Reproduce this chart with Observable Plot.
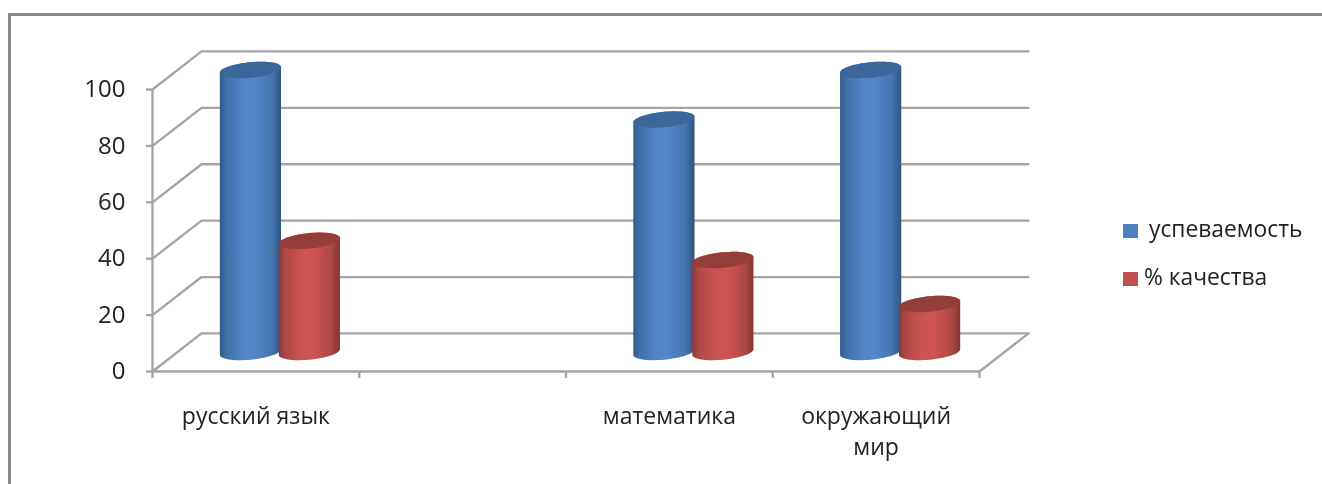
<!DOCTYPE html>
<html lang="ru">
<head>
<meta charset="utf-8">
<script src="https://cdn.jsdelivr.net/npm/d3@7"></script>
<script src="https://cdn.jsdelivr.net/npm/@observablehq/plot@0.6"></script>
<style>
  html, body { margin: 0; padding: 0; background: #fff; }
  body { position: relative; width: 1322px; height: 484px; overflow: hidden; font-family: "Open Sans", sans-serif; }
  #chart { position: absolute; left: 0; top: 0; }
  #chart svg { display: block; filter: blur(0.6px); }
  #frame { position: absolute; left: 8px; top: 13px; right: -4px; bottom: -4px; border-left: 3px solid #8c8c8c; border-top: 3px solid #8c8c8c; }
  .key { position: absolute; font-size: 22.8px; line-height: 28px; color: #222; white-space: nowrap; filter: blur(0.45px); }
  .swatch { position: absolute; width: 15px; height: 14px; filter: blur(0.4px); }
</style>
</head>
<body>
<div id="frame"></div>
<div id="chart"></div>
<div class="swatch" style="left:1123px;top:224px;background:#4f81bd"></div>
<div class="key" style="left:1149px;top:215px">успеваемость</div>
<div class="swatch" style="left:1123px;top:272px;background:#c0504d"></div>
<div class="key" style="left:1144px;top:263px">% качества</div>
<script>
const categories = ["русский язык", "", "математика", "окружающий\nмир"];
const slots = [0, 1, 2, 3];
const uspevaemost = [100, null, 82.4, 100];
const kachestvo = [39.4, null, 32.6, 17];
const yTicks = [0, 20, 40, 60, 80, 100];
const xTicks = [0, 1, 2, 3, 4];

// Pseudo-3D floor depth and cylinder proportions, in data units.
const depthX = 0.237, depthY = 13.5;
const baseLift = depthY / 2, groupShift = depthX / 2;
const halfWidth = 0.148, gap = 0.1425, capHalf = 2.75, capTilt = 1.0;

// Back-wall polylines: one for each tick level.
const wall = yTicks.flatMap((v) => [
  {level: v, x: 0, y: v},
  {level: v, x: depthX, y: v + depthY},
  {level: v, x: 4 + depthX, y: v + depthY}
]);
const floorFront = [
  {x: 0, y: 0}, {x: 4, y: 0}, {x: 4 + depthX, y: depthY}
];

const angles = d3.range(0, 33).map((i) => Math.PI - (i / 32) * Math.PI);

function cylinders(values, side) {
  const bodies = [], caps = [];
  values.forEach((v, i) => {
    if (v == null) return;
    const cx = slots[i] + 0.5 + groupShift + side * gap;
    for (const a of angles) {
      const c = Math.cos(a), s = Math.sin(a);
      const x = cx + halfWidth * c;
      const top = v + baseLift + capTilt * c;
      bodies.push({id: i, x, y1: baseLift + capTilt * c - capHalf * s, y2: top + capHalf * s});
      caps.push({id: i, x, y1: top - capHalf * s, y2: top + capHalf * s});
    }
  });
  return {bodies, caps};
}
const blue = cylinders(uspevaemost, -1);
const red = cylinders(kachestvo, 1);

const labels = slots.map((s, i) => ({x: s + 0.5, text: categories[i]})).filter((d) => d.text);

const gradients = () => {
  const defs = d3.create("svg:defs");
  const grad = (id, stops) => {
    const g = defs.append("linearGradient").attr("id", id);
    stops.forEach(([o, c]) => g.append("stop").attr("offset", o).attr("stop-color", c));
  };
  grad("gBlue", [[0, "#33598a"], [0.1, "#416fa8"], [0.38, "#5186c8"], [0.58, "#5186c8"], [0.85, "#4575af"], [1, "#2f5380"]]);
  grad("gRed", [[0, "#8a3836"], [0.1, "#ad4845"], [0.38, "#cd5452"], [0.58, "#cd5452"], [0.85, "#ae4946"], [1, "#823431"]]);
  return defs.node();
};

const gridColor = "#a4a4a4";
const chart = Plot.plot({
  width: 1322,
  height: 484,
  marginLeft: 152,
  marginRight: 343,
  marginTop: 89,
  marginBottom: 113,
  style: {background: "transparent", fontFamily: "'Open Sans', sans-serif", overflow: "visible"},
  x: {domain: [0, 4], axis: null},
  y: {domain: [0, 100], axis: null},
  marks: [
    gradients,
    Plot.line(wall, {x: "x", y: "y", z: "level", stroke: gridColor, strokeWidth: 2.3}),
    Plot.line(floorFront, {x: "x", y: "y", stroke: gridColor, strokeWidth: 2.3}),
    Plot.ruleX([0], {y1: 0, y2: 100, stroke: gridColor, strokeWidth: 2.3}),
    Plot.axisY({ticks: yTicks, tickSize: 6, tickPadding: 21, fontSize: 24, fill: "#222", stroke: gridColor, strokeWidth: 2.3, label: null}),
    Plot.axisX({ticks: xTicks, tickFormat: () => "", tickSize: 7, stroke: gridColor, strokeWidth: 2.3, label: null}),
    Plot.areaY(blue.bodies, {x: "x", y1: "y1", y2: "y2", z: "id", fill: "url(#gBlue)"}),
    Plot.areaY(blue.caps, {x: "x", y1: "y1", y2: "y2", z: "id", fill: "#3b6699"}),
    Plot.areaY(red.bodies, {x: "x", y1: "y1", y2: "y2", z: "id", fill: "url(#gRed)"}),
    Plot.areaY(red.caps, {x: "x", y1: "y1", y2: "y2", z: "id", fill: "#953d3a"}),
    Plot.text(labels, {x: "x", y: 0, text: "text", dy: 30, lineAnchor: "top", lineHeight: 1.35, fontSize: 23, fill: "#222"})
  ]
});
document.getElementById("chart").append(chart);
</script>
</body>
</html>
